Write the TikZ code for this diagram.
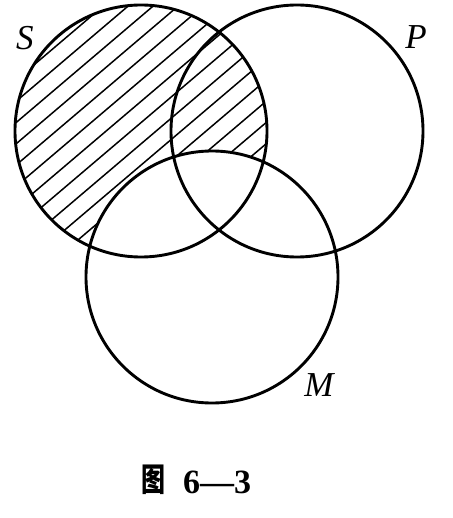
\documentclass[tikz,border=0pt]{standalone}
\usepackage{fontspec}
\setmainfont{Liberation Serif}
\newfontfamily\cjk{Noto Sans CJK SC}
\begin{document}
\begin{tikzpicture}[x=1pt,y=-1pt,
  ring/.style={line width=2.9pt},
  hatch/.style={line width=1.5pt},
  lbl/.style={font=\fontsize{35}{35}\selectfont\itshape, inner sep=0pt}]
\useasboundingbox (0,0) rectangle (452,518);
\fill[white] (0,0) rectangle (452,518);
\coordinate (S) at (141,131);
\coordinate (P) at (297,131);
\coordinate (M) at (212,277);
% hatching: S minus M
\begin{scope}
  \clip (S) circle[radius=126pt];
  \begin{scope}[even odd rule]
  \clip (-10,-10) rectangle (470,540) (M) circle[radius=126pt];
  \foreach \k in {-6,...,20}
    \draw[hatch] (-100,115+21.25*\k+85) -- (500,115+21.25*\k-425);
  \end{scope}
\end{scope}
\draw[ring] (S) circle[radius=126pt];
\draw[ring] (P) circle[radius=126pt];
\draw[ring] (M) circle[radius=126pt];
\node[lbl] (sl) at (25,38) {S};
\node[lbl] (pl) at (416,37) {P};
\node[lbl] (ml) at (319,385) {M};
\node[inner sep=0pt, font=\fontsize{24}{24}\selectfont\bfseries] (fig) at (153,480) {\scalebox{1}[1.35]{\cjk 图}};
\node[anchor=west, inner sep=0pt, font=\fontsize{34}{34}\selectfont\bfseries] (num) at (183,482) {6—3};
\end{tikzpicture}
\end{document}
